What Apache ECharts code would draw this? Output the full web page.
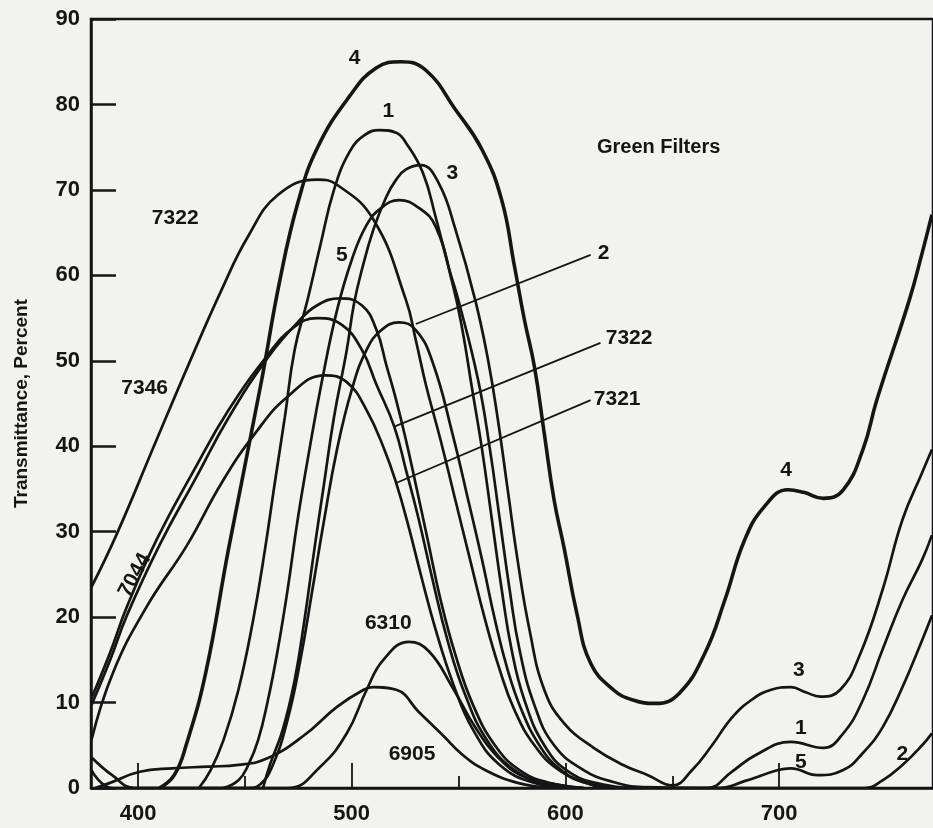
<!DOCTYPE html>
<html>
<head>
<meta charset="utf-8">
<script src="https://cdn.jsdelivr.net/npm/echarts@6/dist/echarts.min.js"></script>
<style>
html,body{margin:0;padding:0;background:#f2f2ef;}
#chart{width:933px;height:828px;}
</style>
</head>
<body>
<div id="chart"></div>
<script>
// ---- axis ticks / labels ----
const xTickLabels = [400, 500, 600, 700];
const xMinorTicks = [450, 550, 650];

// ---- series: [wavelength nm, transmittance %] ----
const filter4 = [[410,0],[416.9,1.5],[422.5,5],[431.7,13.5],[442.3,27.9],[457.6,47.4],[466.2,59.2],[474.7,68.4],[483.9,74.9],[499.1,81],[511.6,84.3],[523.1,85],[534.7,84],[548.5,79.4],[561,74.7],[570.2,68.8],[576.2,61],[580.8,54.8],[585.5,49.3],[590.1,41.5],[594.7,33.7],[599.3,28.2],[605.3,20.5],[611.8,14.6],[622.4,11.5],[631.6,10.3],[642.2,9.9],[653.3,11.1],[665.3,15.8],[674.6,22],[683.8,29],[693,32.9],[704.1,34.9],[711.5,34.6],[720.7,33.9],[730,34.9],[739.2,39.6],[745.7,45.4],[760.9,57.1],[766.9,62.6],[771.5,67.1]];
const filter1 = [[428.5,0],[434,2.1],[440,5.6],[447,11.5],[453.9,19.7],[459.4,27.9],[464,35.7],[468.7,43.4],[473.3,51.3],[479.3,57.1],[485.3,63.5],[491.7,70],[499.1,74.5],[506,76.4],[513,77],[520.8,76.7],[525.4,75.5],[533.3,72],[539.3,66.8],[545.3,61],[549.9,57.1],[559.1,47.8],[564.7,39.6],[569.3,31.4],[573.9,23.2],[578.5,16.2],[585.5,9.7],[594.7,5],[608.5,2.1],[622.4,0.7],[636.2,0.1],[666.3,0],[677.8,1.9],[689.3,3.9],[705.5,5.4],[720.7,4.7],[730,6.4],[739.2,10.3],[748.4,16.2],[757.7,22],[766.9,26.7],[771.5,29.6]];
const filter3 = [[458.5,0],[461.7,2.7],[467.7,6.8],[473.3,12.6],[477.9,19.7],[482.5,27.9],[487.1,35.7],[491.7,43.4],[497.7,51.3],[501,56.6],[504.7,60.6],[510.2,65.4],[516.2,69.2],[520.8,71.2],[525.4,72.4],[532.4,72.9],[540.7,70.8],[548.5,65.4],[557.8,57.1],[563.8,50.1],[568.4,43.1],[573,34.9],[577.6,26.7],[583.2,18.5],[590.1,11.5],[599.3,7.6],[613.2,4.7],[627,2.7],[638.6,1.5],[650.1,0.3],[659.3,2.1],[668.6,5],[677.8,8.2],[687,10.3],[696.3,11.5],[705.5,11.8],[712.4,11.2],[719.3,10.7],[728.6,11.5],[737.8,15.6],[748.4,23.2],[757.7,31.4],[766.9,36.9],[771.5,39.6]];
const filter5 = [[440,0],[447,0.9],[451.6,2.7],[456.2,5.6],[460.8,10.3],[465.4,16.2],[470,23.2],[474.7,31.4],[480.2,39.6],[486.2,47.8],[493.1,55.9],[500,61.8],[507,65.9],[513.9,67.9],[522.2,68.8],[531.4,67.9],[539.3,65.7],[547.1,59.1],[551.8,53.6],[556.4,46.6],[561,39.6],[565.6,31.4],[570.2,23.2],[574.8,16.2],[580.8,10.3],[590.1,5],[601.6,1.9],[617.8,0.4],[636.2,0],[671.8,0],[683.8,0.8],[699.5,2.1],[705.5,2.3],[717.9,1.5],[730,2.1],[739.2,4.1],[748.4,7.1],[757.7,11.8],[766.9,17.3],[771.5,20.2]];
const filter2 = [[378.2,2.1],[388.3,0],[451.6,0],[457.1,0.4],[463.1,2.7],[470,8],[476,15],[481.6,23.2],[487.1,31.4],[493.1,39.6],[500,46.6],[507,51.3],[513.9,53.6],[522,54.5],[530,53.6],[537.9,49.8],[547.1,41.5],[554.5,33.7],[561,26.7],[567,19.7],[573,13.8],[579.5,9.1],[587.8,5],[597,2.3],[608.5,0.7],[622.4,0],[740.1,0],[748.4,0.9],[757.7,2.7],[766.9,5],[771.5,6.4]];
const glass7346 = [[378.2,23.5],[390.2,29.8],[408.6,40.7],[423.9,49.7],[439.1,58.3],[451.6,64.6],[465.4,69.4],[483.9,71.2],[493.1,70.6],[510.2,66.5],[525.4,57.1],[530,52.4],[534.7,47.2],[541.6,40.7],[548.5,33.7],[555.4,26.7],[562.4,19.7],[569.3,13.8],[576.2,9.1],[585.5,5],[597,2.1],[613.2,0.4],[631.6,0]];
const glass7044 = [[378.2,9.7],[387,15],[394.8,20.2],[410,28.4],[427.1,36.3],[442.3,43.3],[460.8,50.4],[474.7,54.5],[483.9,56.5],[494.5,57.3],[504.7,56.5],[511.6,53.6],[516.2,49.5],[520.8,45.4],[525.4,40.7],[530,35.5],[535.6,29],[541.6,22],[548.5,15.6],[556.8,9.7],[567,5],[578.5,2.1],[592.4,0.6],[608.5,0]];
const glass7322 = [[378.2,10.5],[387,15.9],[394.8,21.2],[408.6,29],[426.2,37.2],[442.3,44.2],[460.8,50.7],[472.3,53.8],[483.9,55],[495.4,54.2],[504.7,51.3],[511.6,47.2],[519.9,42.3],[525.4,37.2],[531.4,31.4],[537.9,24.3],[544.8,17.3],[553.1,10.9],[563.3,5.6],[576.2,2.1],[592.4,0.4],[608.5,0]];
const glass7321 = [[378.2,5.6],[388.3,13.5],[404,21.2],[422.9,28.4],[439.1,35.7],[454.8,41.5],[470,45.8],[487.6,48.3],[497.7,47.5],[507,44.2],[515.3,39.6],[520.8,35.7],[526.4,30.8],[532.4,24.9],[539.3,18.5],[547.6,12.1],[556.8,6.8],[569.3,2.7],[585.5,0.6],[603.9,0]];
const glass6310 = [[378.2,3.6],[387.9,1.5],[398.5,0],[470,0],[485.3,2.5],[497.7,6.4],[507,11.5],[514.8,15],[526.8,17.1],[536.1,16],[547.1,11.8],[557.8,7.1],[568.4,3.6],[580.8,1.3],[596.1,0.4],[608.5,0]];
const glass6905 = [[380,0],[386.9,0.6],[400.8,1.9],[416,2.3],[433.1,2.5],[447,2.7],[460.8,3.5],[477.9,6.2],[493.1,9.5],[505.6,11.5],[510.2,11.8],[520.8,11.5],[531.4,8.9],[542.5,6.2],[551.8,3.9],[562.4,2.1],[577.6,0.6],[593.3,0]];

// ---- leader lines (data space) ----
const leader2 = [[530,54.3],[611.8,62.4]];
const leader7322 = [[519.9,42.3],[616.4,52.1]];
const leader7321 = [[520.8,35.7],[611.8,45.4]];

// ---- annotation texts (data space anchors) ----
const annoText = ['4','1','3','5','Green Filters','7322','7346','7044','6310','6905','4','3','1','5','2','2','7322','7321'];
const annoX = [501.4,517.1,547.1,495.4,643.6,417.4,403.1,398.5,517.1,528.2,703.2,709.2,710.1,710.1,757.7,617.8,629.8,624.2];
const annoY = [85.4,79.2,72.0,62.4,75.0,66.7,46.8,24.9,19.3,3.9,37.2,13.8,7.0,3.0,4.0,62.6,52.7,45.5];
const annoRotate = [0,0,0,0,0,0,0,62,0,0,0,0,0,0,0,0,0,0];

const INK = '#151515';
const FONT = 'Liberation Sans';

function curve(name, data, width) {
  return {
    name: name, type: 'line', data: data, smooth: 0.45,
    showSymbol: false, symbol: 'none', silent: true,
    lineStyle: { color: INK, width: width }, z: 3
  };
}
function leader(name, data) {
  return {
    name: name, type: 'line', data: data, smooth: false, showSymbol: false, symbol: 'none',
    silent: true, lineStyle: { color: INK, width: 1.8 }, z: 3
  };
}

const annoData = annoText.map((t, i) => ({
  name: t,
  value: [annoX[i], annoY[i]],
  label: { rotate: annoRotate[i], fontSize: t === 'Green Filters' ? 20 : 21 }
}));

const chart = echarts.init(document.getElementById('chart'), null, { renderer: 'canvas' });
chart.setOption({
  backgroundColor: '#f2f2ef',
  animation: false,
  grid: { left: 91, top: 19, right: -11, bottom: 40, show: true, borderColor: INK, borderWidth: 2.5, backgroundColor: 'transparent' },
  xAxis: [{
    type: 'value', min: 378, max: 772, position: 'bottom',
    axisLine: { show: true, onZero: false, lineStyle: { color: INK, width: 2.5 } },
    axisTick: { show: true, inside: true, length: 25, customValues: xTickLabels, lineStyle: { color: INK, width: 1.8 } },
    axisLabel: { show: true, customValues: xTickLabels, margin: 15, color: INK, fontSize: 22, fontWeight: 'bold', fontFamily: FONT },
    splitLine: { show: false }
  }, {
    type: 'value', min: 378, max: 772, position: 'bottom', offset: 0,
    axisLine: { show: false },
    axisTick: { show: true, inside: true, length: 12, customValues: xMinorTicks, lineStyle: { color: INK, width: 1.8 } },
    axisLabel: { show: false },
    splitLine: { show: false }
  }],
  yAxis: {
    type: 'value', min: 0, max: 90, interval: 10,
    name: 'Transmittance, Percent', nameLocation: 'middle', nameGap: 60,
    nameTextStyle: { color: INK, fontSize: 19, fontWeight: 'bold', fontFamily: FONT },
    axisLine: { show: true, lineStyle: { color: INK, width: 2.5 } },
    axisTick: { show: true, inside: true, length: 25, lineStyle: { color: INK, width: 2.5 } },
    axisLabel: { margin: 11, color: INK, fontSize: 22, fontWeight: 'bold', fontFamily: FONT },
    splitLine: { show: false }
  },
  series: [
    curve('4', filter4, 3.6),
    curve('1', filter1, 2.7),
    curve('3', filter3, 2.7),
    curve('5', filter5, 2.7),
    curve('2', filter2, 2.7),
    curve('7346', glass7346, 2.7),
    curve('7044', glass7044, 2.7),
    curve('7322', glass7322, 2.7),
    curve('7321', glass7321, 2.7),
    curve('6310', glass6310, 2.7),
    curve('6905', glass6905, 2.7),
    leader('leader 2', leader2),
    leader('leader 7322', leader7322),
    leader('leader 7321', leader7321),
    {
      name: 'labels', type: 'scatter', data: annoData, symbolSize: 0, silent: true,
      itemStyle: { color: INK, opacity: 1 }, z: 5,
      label: { show: true, position: 'inside', formatter: '{b}', color: INK, opacity: 1,
               textBorderWidth: 0, fontWeight: 'bold', fontFamily: FONT }
    }
  ]
});
</script>
</body>
</html>
